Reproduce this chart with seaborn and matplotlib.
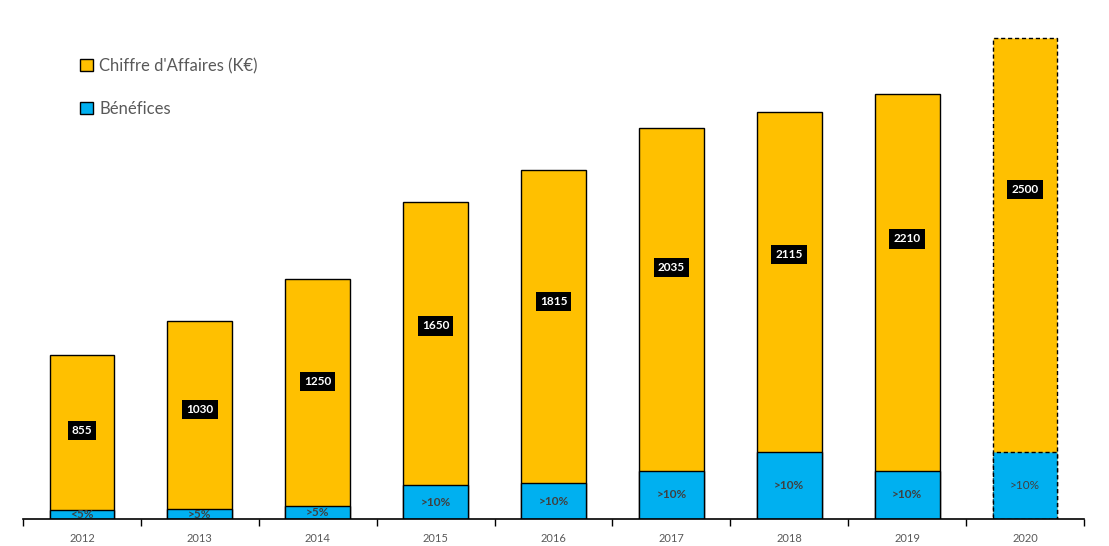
import matplotlib
matplotlib.use('Agg')
import numpy as np
import pandas as pd
import seaborn as sns
import matplotlib.pyplot as plt
from matplotlib.patches import Patch

# Values
years = ['2012', '2013', '2014', '2015', '2016', '2017', '2018', '2019', '2020']
chiffre_affaires = [855, 1030, 1250, 1650, 1815, 2035, 2115, 2210, 2500]
benefices = [45, 50, 70, 175, 185, 250, 350, 250, 350]
marges = ['<5%', '>5%', '>5%', '>10%', '>10%', '>10%', '>10%', '>10%', '>10%']

df = pd.DataFrame({'annee': years, 'ca': chiffre_affaires, 'benef': benefices, 'marge': marges})

yellow = '#FFC000'
blue = '#00B0F0'
grey = '#595959'

sns.set_style('white')
plt.rcParams['font.family'] = ['Lato', 'DejaVu Sans']
plt.rcParams['xtick.bottom'] = True

fig = plt.figure(figsize=(11.09, 5.46), dpi=100)
ax = fig.add_axes([23 / 1109, 27 / 546, 1061 / 1109, 500 / 546])

# CA bars, then the profit bars drawn over them from zero
sns.barplot(data=df, x='annee', y='ca', color=yellow, saturation=1, width=0.55,
            edgecolor='black', linewidth=1, ax=ax)
sns.barplot(data=df, x='annee', y='benef', color=blue, saturation=1, width=0.55,
            edgecolor='black', linewidth=1, ax=ax)

n = len(years)
# last year is a forecast: dashed outline
for p in [ax.patches[n - 1], ax.patches[2 * n - 1]]:
    p.set_linestyle((0, (3, 2)))

# value labels in black boxes
for i, ca in enumerate(df['ca']):
    ypos = ca * (0.46 + 0.09 * ca / 1000)
    ax.text(i, ypos, str(ca), ha='center', va='center', color='white',
            fontsize=8.5, fontweight='bold',
            bbox=dict(boxstyle='square,pad=0.35', fc='black', ec='none'))

# margin labels in the blue bars
for i, (b, m) in enumerate(zip(df['benef'], df['marge'])):
    ypos = max(b / 2, 25)
    weight = 'normal' if i == n - 1 else 'bold'
    ax.text(i, ypos, m, ha='center', va='center', color='#404040',
            fontsize=8.5, fontweight=weight, clip_on=True)

ax.set_ylim(0, 2600)
ax.set_xlim(-0.5, n - 0.5)
ax.set_xlabel('')
ax.set_ylabel('')
ax.set_yticks([])
for s in ['top', 'right', 'left']:
    ax.spines[s].set_visible(False)
ax.spines['bottom'].set_color('black')
ax.spines['bottom'].set_linewidth(1.2)

ax.set_xticks(np.arange(n))
ax.set_xticklabels(years, fontsize=8, color=grey)
ax.set_xticks(np.arange(n + 1) - 0.5, minor=True)
ax.tick_params(axis='x', which='major', bottom=True, length=0, pad=10)
ax.tick_params(axis='x', which='minor', bottom=True, length=5, width=1,
               color='black', direction='out')

handles = [Patch(facecolor=yellow, edgecolor='black', linewidth=1),
           Patch(facecolor=blue, edgecolor='black', linewidth=1)]
fig.legend(handles, ["Chiffre d'Affaires (K€)", 'Bénéfices'],
           loc='upper left', bbox_to_anchor=(65 / 1109, 1 - 43 / 546),
           frameon=False, fontsize=12, labelcolor=grey,
           handlelength=0.75, handleheight=0.75, handletextpad=0.4,
           labelspacing=1.6)

fig.savefig('out.png', dpi=100)
